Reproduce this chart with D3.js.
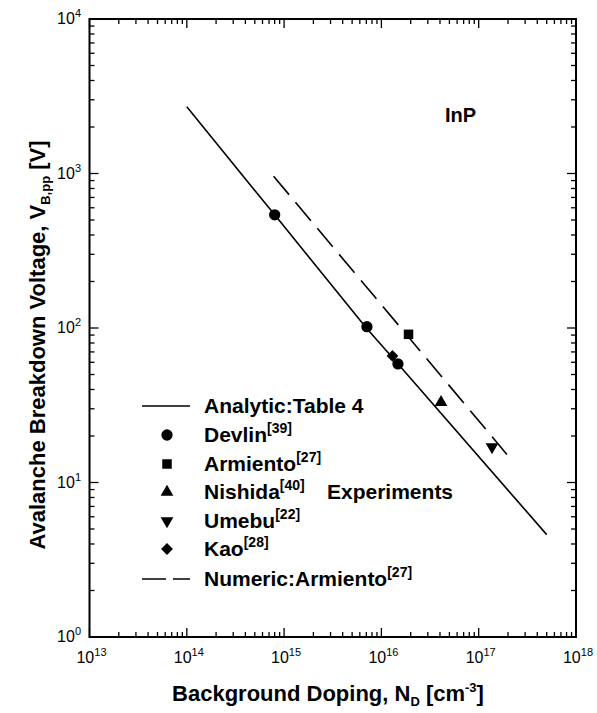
<!DOCTYPE html>
<html><head><meta charset="utf-8">
<script src="https://cdn.jsdelivr.net/npm/d3@7"></script>
<style>body{margin:0;background:#fff}svg{display:block}text{font-family:"Liberation Sans",Arial,sans-serif;fill:#000}</style>
</head><body><svg id="c" width="597" height="713"></svg>
<script>
// Data
const analyticN = [1e14, 8e14, 7e15, 1.5e16, 5e17];
const analyticV = [2700, 540, 100, 58, 4.6];
const numericN = [7.8e14, 1.95e17];
const numericV = [960, 15.2];
const devlinN = [8e14, 7.1e15, 1.48e16];
const devlinV = [540, 102, 58.5];
const armientoN = [1.9e16];
const armientoV = [91];
const nishidaN = [4.1e16];
const nishidaV = [33];
const umebuN = [1.37e17];
const umebuV = [17];
const kaoN = [1.3e16];
const kaoV = [66];
const xTickExp = [13, 14, 15, 16, 17, 18];
const yTickExp = [0, 1, 2, 3, 4];

const svg = d3.select("#c");
const L = 89.5, R = 576, T = 19, B = 637;
const x = d3.scaleLog().domain([1e13, 1e18]).range([L, R]);
const y = d3.scaleLog().domain([1, 1e4]).range([B, T]);

// ticks (inside, on all four sides)
const xt = x.ticks(50), yt = y.ticks(40);
const tk = svg.append("g").attr("stroke", "#000").attr("stroke-width", 1.3);
function isMajor(v){ const l = Math.log10(v); return Math.abs(l - Math.round(l)) < 1e-9; }
xt.forEach(v => {
  const len = isMajor(v) ? 9 : 5, px = x(v);
  tk.append("line").attr("x1", px).attr("x2", px).attr("y1", B).attr("y2", B - len);
  tk.append("line").attr("x1", px).attr("x2", px).attr("y1", T).attr("y2", T + len);
});
yt.forEach(v => {
  const len = isMajor(v) ? 9 : 5, py = y(v);
  tk.append("line").attr("x1", L).attr("x2", L + len).attr("y1", py).attr("y2", py);
  tk.append("line").attr("x1", R).attr("x2", R - len).attr("y1", py).attr("y2", py);
});
svg.append("rect").attr("x", L).attr("y", T).attr("width", R - L).attr("height", B - T)
  .attr("fill", "none").attr("stroke", "#000").attr("stroke-width", 2);

// tick labels
xTickExp.forEach(e => {
  const t = svg.append("text").attr("x", x(Math.pow(10, e)) + 2).attr("y", 663)
    .attr("text-anchor", "middle").style("font-size", "16px");
  t.append("tspan").text("10");
  t.append("tspan").attr("dy", -7).style("font-size", "11px").text(e);
});
yTickExp.forEach(e => {
  const t = svg.append("text").attr("x", 81).attr("y", y(Math.pow(10, e)) + 5)
    .attr("text-anchor", "end").style("font-size", "16px");
  t.append("tspan").text("10");
  t.append("tspan").attr("dy", -7).style("font-size", "11px").text(e);
});

// curves
const line = d3.line().x(d => x(d[0])).y(d => y(d[1]));
svg.append("path").datum(analyticN.map((n, i) => [n, analyticV[i]]))
  .attr("d", line).attr("fill", "none").attr("stroke", "#000").attr("stroke-width", 1.6);
svg.append("path").datum(numericN.map((n, i) => [n, numericV[i]]))
  .attr("d", line).attr("fill", "none").attr("stroke", "#000").attr("stroke-width", 1.6)
  .attr("stroke-dasharray", "24,10");

// markers
const sym = {
  circle: d3.symbol().type(d3.symbolCircle).size(100),
  square: d3.symbol().type(d3.symbolSquare).size(90),
  tri: d3.symbol().type(d3.symbolTriangle).size(70),
  diamond: d3.symbol().type(d3.symbolSquare).size(70)
};
function pts(N, V, s, rot) {
  N.forEach((n, i) => {
    svg.append("path").attr("d", s()).attr("fill", "#000")
      .attr("transform", `translate(${x(n)},${y(V[i])})` + (rot ? ` rotate(${rot})` : ""));
  });
}
pts(devlinN, devlinV, sym.circle);
pts(armientoN, armientoV, sym.square);
pts(nishidaN, nishidaV, sym.tri);
pts(umebuN, umebuV, sym.tri, 180);
pts(kaoN, kaoV, sym.diamond, 45);

// legend
const lg = svg.append("g");
const fs = "21px";
lg.append("line").attr("x1", 142).attr("x2", 190).attr("y1", 406).attr("y2", 406).attr("stroke", "#000").attr("stroke-width", 1.6);
function legText(yy, main, sup) {
  const t = lg.append("text").attr("x", 204).attr("y", yy).style("font-size", fs).style("font-weight", "bold");
  t.append("tspan").text(main);
  if (sup) t.append("tspan").attr("dy", -9).style("font-size", "14px").text(sup);
  return t;
}
legText(413, "Analytic:Table 4");
const rows = [
  [435, sym.circle, 0, "Devlin", "[39]"],
  [464, sym.square, 0, "Armiento", "[27]"],
  [492, sym.tri, 0, "Nishida", "[40]"],
  [521, sym.tri, 180, "Umebu", "[22]"],
  [549, sym.diamond, 45, "Kao", "[28]"]
];
rows.forEach(r => {
  lg.append("path").attr("d", r[1]()).attr("fill", "#000")
    .attr("transform", `translate(167,${r[0]})` + (r[2] ? ` rotate(${r[2]})` : ""));
  legText(r[0] + 7, r[3], r[4]);
});
lg.append("text").attr("x", 327).attr("y", 499).style("font-size", fs).style("font-weight", "bold").text("Experiments");
lg.append("line").attr("x1", 142).attr("x2", 190).attr("y1", 579).attr("y2", 579).attr("stroke", "#000")
  .attr("stroke-width", 1.6).attr("stroke-dasharray", "24,7");
legText(586, "Numeric:Armiento", "[27]");

// InP label
svg.append("text").attr("x", 445).attr("y", 122).style("font-size", "20px").style("font-weight", "bold").text("InP");

// axis titles
const xtitle = svg.append("text").attr("x", 328).attr("y", 701).attr("text-anchor", "middle")
  .style("font-size", "22px").style("font-weight", "bold");
xtitle.append("tspan").text("Background Doping, N");
xtitle.append("tspan").attr("dy", 5).style("font-size", "13px").text("D");
xtitle.append("tspan").attr("dy", -5).text(" [cm");
xtitle.append("tspan").attr("dy", -9).style("font-size", "13px").text("-3");
xtitle.append("tspan").attr("dy", 9).text("]");

const ytitle = svg.append("text").attr("transform", "translate(45,345) rotate(-90)").attr("text-anchor", "middle")
  .style("font-size", "22px").style("font-weight", "bold");
ytitle.append("tspan").text("Avalanche Breakdown Voltage, V");
ytitle.append("tspan").attr("dy", 5).style("font-size", "13px").text("B,pp");
ytitle.append("tspan").attr("dy", -5).text(" [V]");
</script></body></html>
